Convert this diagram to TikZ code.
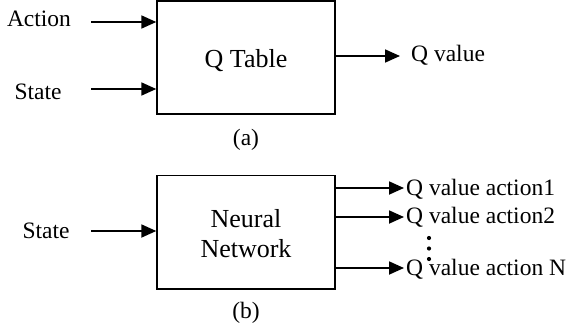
\documentclass[tikz,border=0pt]{standalone}
\usepackage{fontspec}
\setmainfont{Liberation Serif}
\usetikzlibrary{arrows.meta}
\begin{document}
\begin{tikzpicture}[x=1pt,y=-1pt,
  blockbox/.style={draw,line width=1.4pt,minimum width=178pt,inner sep=0pt,font=\fontsize{26}{30}\selectfont,align=center},
  lbl/.style={inner sep=0pt,font=\fontsize{23.5}{28}\selectfont},
  flow/.style={line width=1.8pt,-{Triangle[length=15pt,width=13pt]}},
  caption/.style={inner sep=0pt,font=\fontsize{23.5}{28}\selectfont,anchor=base}]
  \useasboundingbox (0,0) rectangle (568,332);

  % (a) table lookup
  \node[blockbox,minimum height=113pt] (qa) at (246,57.5) {};
  \node[inner sep=0pt,font=\fontsize{26}{30}\selectfont,anchor=base] (qat) at (246,67) {Q Table};
  \node[lbl,anchor=base] (act) at (39,26) {Action};
  \node[lbl,anchor=base] (sta) at (38,99) {State};
  \coordinate (actin) at (91,22);
  \coordinate (stain) at (91,89);
  \draw[flow] (actin) -- (actin -| qa.west);
  \draw[flow] (stain) -- (stain -| qa.west);
  \coordinate (qout) at (400,56);
  \draw[flow] (qout -| qa.east) -- (qout);
  \node[lbl,anchor=base west] (qv) at (411,61) {Q value};
  \node[caption] (capa) at (246,145) {(a)};

  % (b) network approximation
  \node[blockbox,minimum height=113.5pt] (nn) at (246,232.25) {};
  \node[inner sep=0pt,font=\fontsize{26}{30}\selectfont,anchor=base] (nnt1) at (246,227) {Neural};
  \node[inner sep=0pt,font=\fontsize{26}{30}\selectfont,anchor=base] (nnt2) at (246,257) {Network};
  \node[lbl,anchor=base] (stb) at (46,238) {State};
  \coordinate (stbin) at (91,231);
  \draw[flow] (stbin) -- (stbin -| nn.west);
  \coordinate (o1) at (404,188);
  \coordinate (o2) at (404,217);
  \coordinate (on) at (404,268);
  \draw[flow] (o1 -| nn.east) -- (o1);
  \draw[flow] (o2 -| nn.east) -- (o2);
  \draw[flow] (on -| nn.east) -- (on);
  \node[lbl,anchor=base west] (q1) at (406,195) {Q value action1};
  \node[lbl,anchor=base west] (q2) at (406,223) {Q value action2};
  \node[lbl,anchor=base west] (qn) at (406,275) {Q value action N};
  \foreach \yy in {238,248.5,259} \fill (429,\yy) circle (2.1pt);
  \node[caption] (capb) at (246,318) {(b)};
\end{tikzpicture}
\end{document}
